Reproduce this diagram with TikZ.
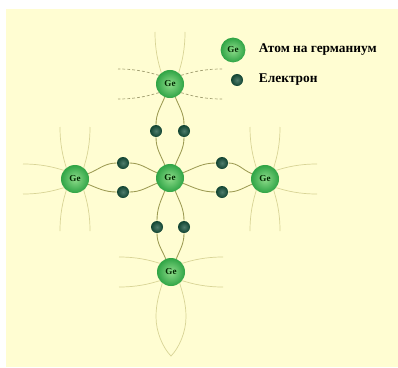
\documentclass[tikz,border=0pt]{standalone}
\usepackage{fontspec}
\setmainfont{Liberation Serif}
\definecolor{paper}{HTML}{FFFDD2}
\definecolor{bondcol}{HTML}{9C9A52}
\definecolor{faint}{HTML}{D8D496}
\definecolor{gelight}{HTML}{8EDC8A}
\definecolor{gedark}{HTML}{2FA445}
\definecolor{elcol}{HTML}{14503A}
\tikzset{
atom/.style={circle, minimum size=0.7cm, inner sep=0pt,
  inner color=gelight, outer color=gedark,
  font=\bfseries\fontsize{6.5}{7}\selectfont, text=black!85!green},
electron/.style={circle, minimum size=0.3cm, inner sep=0pt,
  inner color=elcol!75!white, outer color=elcol!85!black},
bond/.style={bondcol, line width=0.6pt},
outer/.style={faint, line width=0.5pt},
dashedouter/.style={outer/.append style={draw=faint!75!black,
  dash pattern=on 2pt off 1.5pt}},
legend/.style={anchor=west, font=\bfseries\fontsize{9.5}{10}\selectfont},
halfbond/.pic={
  \draw[outer] (38:14) .. controls (22,12) and (34,15) .. (52,15);
  \draw[outer] (-38:14) .. controls (22,-12) and (34,-15) .. (52,-15);
  },
lens/.pic={
  \draw[outer] (38:14) .. controls (22,12) and (32,15) .. (45,15)
        .. controls (60,15) and (76,8) .. (84,0)
        .. controls (76,-8) and (60,-15) .. (45,-15)
        .. controls (32,-15) and (22,-12) .. (-38:14);
  }
}

\begin{document}
\begin{tikzpicture}[x=0.025cm, y=-0.025cm]
\useasboundingbox (0,0) rectangle (398,367);
\fill[paper] (6,9) rectangle (398,367);

% atoms
\node[atom] (c) at (170,178) {Ge};
\node[atom] (t) at (170,84) {Ge};
\node[atom] (b) at (171,272) {Ge};
\node[atom] (l) at (75,179) {Ge};
\node[atom] (r) at (265,179) {Ge};

% bonds to the missing neighbours
\pic[rotate=90] at (t) {halfbond};
\pic[rotate=180, dashedouter] at (t) {halfbond};
\pic[dashedouter] at (t) {halfbond};
\foreach \a in {90,180,-90} \pic[rotate=\a] at (l) {halfbond};
\foreach \a in {90,0,-90} \pic[rotate=\a] at (r) {halfbond};
\pic[rotate=180] at (b) {halfbond};
\pic at (b) {halfbond};
\pic[rotate=-90] at (b) {lens};

% shared electrons
\node[electron] (e1) at (156,131) {};
\node[electron] (e2) at (184,131) {};
\node[electron] (e3) at (123,163) {};
\node[electron] (e4) at (123,192) {};
\node[electron] (e5) at (222,163) {};
\node[electron] (e6) at (222,192) {};
\node[electron] (e7) at (157,227) {};
\node[electron] (e8) at (184,227) {};

\draw[bond] (t) to[out=-112,in=90] (e1) to[out=-90,in=112] (c);
\draw[bond] (t) to[out=-68,in=90] (e2) to[out=-90,in=68] (c);
\draw[bond] (l) to[out=22,in=180] (e3) to[out=0,in=158] (c);
\draw[bond] (l) to[out=-22,in=180] (e4) to[out=0,in=-158] (c);
\draw[bond] (c) to[out=22,in=180] (e5) to[out=0,in=158] (r);
\draw[bond] (c) to[out=-22,in=180] (e6) to[out=0,in=-158] (r);
\draw[bond] (c) to[out=-112,in=90] (e7) to[out=-90,in=112] (b);
\draw[bond] (c) to[out=-68,in=90] (e8) to[out=-90,in=68] (b);

% legend
\node[atom, minimum size=0.62cm] (ka) at (233,50) {Ge};
\node[electron] (ke) at (237,80) {};
\node[legend] (ta) at (254,50) {Атом на германиум};
\node[legend] (te) at (254,80) {Електрон};
\end{tikzpicture}
\end{document}
